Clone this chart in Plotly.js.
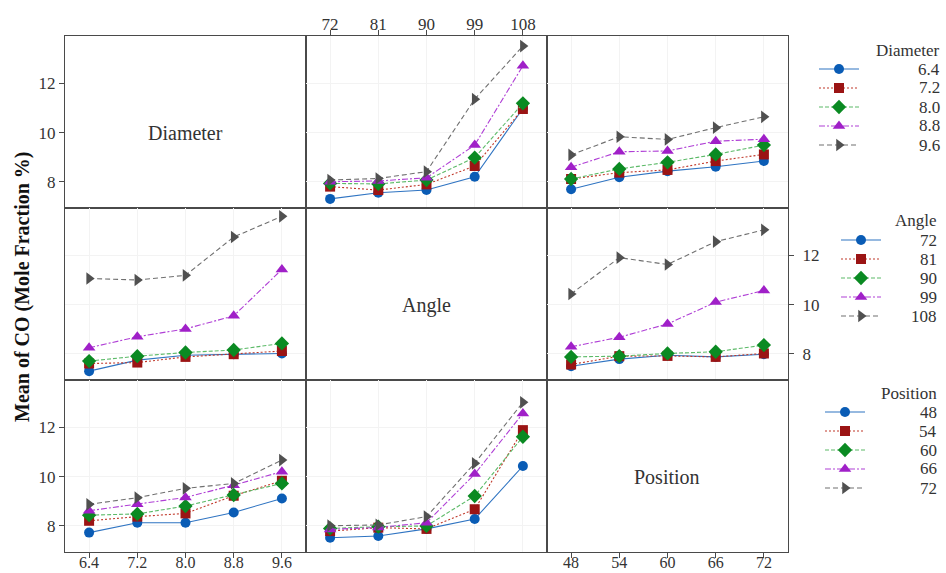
<!DOCTYPE html>
<html>
<head>
<meta charset="utf-8">
<script src="https://cdn.plot.ly/plotly-3.0.1.min.js"></script>
<style>html,body{margin:0;padding:0;background:#fff;}#chart{width:946px;height:573px;}</style>
</head>
<body>
<div id="chart"></div>
<script>
// ---- factor levels (tick labels / legend labels) ----
const diameterLevels = ['6.4', '7.2', '8.0', '8.8', '9.6'];
const angleLevels = ['72', '81', '90', '99', '108'];
const positionLevels = ['48', '54', '60', '66', '72'];
const factorNames = ['Diameter', 'Angle', 'Position'];
const yTitle = 'Mean of CO (Mole Fraction %)';
const yTicks = [8, 10, 12];

// ---- means: rows = trace factor level, columns = x factor level ----
const diameterVsAngle = [
  [7.30, 7.55, 7.66, 8.20, 10.98],
  [7.80, 7.66, 7.89, 8.64, 10.96],
  [7.93, 7.91, 8.07, 8.98, 11.19],
  [8.00, 8.03, 8.16, 9.49, 12.72],
  [8.07, 8.13, 8.41, 11.36, 13.52]
];
const diameterVsPosition = [
  [7.69, 8.18, 8.43, 8.61, 8.84],
  [8.11, 8.37, 8.48, 8.84, 9.11],
  [8.11, 8.52, 8.79, 9.11, 9.49],
  [8.59, 9.22, 9.25, 9.65, 9.73],
  [9.09, 9.83, 9.72, 10.20, 10.64]
];
const angleVsDiameter = [
  [7.29, 7.74, 7.94, 7.98, 8.01],
  [7.60, 7.64, 7.87, 7.98, 8.11],
  [7.70, 7.90, 8.05, 8.15, 8.42],
  [8.24, 8.69, 9.01, 9.54, 11.43],
  [11.06, 11.00, 11.19, 12.75, 13.59]
];
const angleVsPosition = [
  [7.49, 7.78, 7.94, 7.87, 7.98],
  [7.56, 7.90, 7.91, 7.87, 8.01],
  [7.87, 7.90, 8.01, 8.08, 8.35],
  [8.28, 8.67, 9.21, 10.10, 10.57],
  [10.43, 11.91, 11.63, 12.56, 13.04]
];
const positionVsDiameter = [
  [7.72, 8.12, 8.12, 8.54, 9.11],
  [8.20, 8.37, 8.50, 9.22, 9.83],
  [8.43, 8.48, 8.80, 9.25, 9.72],
  [8.61, 8.87, 9.15, 9.65, 10.20],
  [8.87, 9.14, 9.52, 9.72, 10.67]
];
const positionVsAngle = [
  [7.51, 7.58, 7.87, 8.27, 10.43],
  [7.78, 7.92, 7.87, 8.67, 11.89],
  [7.89, 7.96, 7.99, 9.21, 11.62],
  [7.85, 7.93, 8.12, 10.10, 12.57],
  [8.00, 8.03, 8.37, 10.54, 13.02]
];

// ---- styles ----
const markerColors = ['#0a5cb5', '#9b1414', '#0a8a22', '#a020c8', '#505050'];
const lineColors = ['#2f74c2', '#c0392b', '#5cba68', '#b040d6', '#707070'];
const symbols = ['circle', 'square', 'diamond', 'triangle-up', 'triangle-right'];
const symbolSizes = [10, 10, 11, 11, 11];
const dashes = ['solid', '2px,2px', '4px,2px', '6px,2px,2px,2px', '5px,3px'];

const levelsByFactor = [diameterLevels, angleLevels, positionLevels];
const dataByPanel = {
  '0,1': diameterVsAngle, '0,2': diameterVsPosition,
  '1,0': angleVsDiameter, '1,2': angleVsPosition,
  '2,0': positionVsDiameter, '2,1': positionVsAngle
};
const legendIds = ['legend', 'legend2', 'legend3'];

// geometry helpers (plot area: l=65, t=36, w=723, h=516)
const M = {l: 65, r: 158, t: 36, b: 21};
const W = 946 - M.l - M.r, H = 573 - M.t - M.b;
const px = x => (x - M.l) / W;
const py = y => (573 - M.b - y) / H;

const traces = [];
const layout = {
  width: 946, height: 573,
  margin: M,
  paper_bgcolor: '#fff', plot_bgcolor: '#fff',
  font: {family: 'Liberation Serif', size: 17, color: '#333'},
  showlegend: true,
  annotations: []
};

const frameColor = '#4a4a4a';
for (let r = 0; r < 3; r++) {
  for (let c = 0; c < 3; c++) {
    const k = r * 3 + c + 1;
    const xa = 'xaxis' + (k === 1 ? '' : k);
    const ya = 'yaxis' + (k === 1 ? '' : k);
    const xid = 'x' + (k === 1 ? '' : k);
    const yid = 'y' + (k === 1 ? '' : k);
    const diag = r === c;
    const xLabels = (r === 2 && c !== 1) || (r === 0 && c === 1);
    const yLabels = (c === 0 && r !== 1) || (c === 2 && r === 1);
    layout[xa] = {
      domain: [c / 3, (c + 1) / 3], anchor: yid,
      type: 'category', categoryorder: 'array', categoryarray: levelsByFactor[c],
      tickvals: levelsByFactor[c],
      range: [-0.5, 4.5],
      showline: true, mirror: true, linecolor: frameColor, linewidth: 1,
      showgrid: !diag, gridcolor: '#f3f3f3', gridwidth: 1, zeroline: false,
      ticks: xLabels ? 'outside' : '', ticklen: 5, tickcolor: frameColor,
      showticklabels: xLabels, side: (r === 0 ? 'top' : 'bottom'),
      ticklabelstandoff: (r === 0 ? -7 : -9),
      tickfont: {family: 'Liberation Serif', size: (r === 0 ? 17 : 16), color: '#333'},
      fixedrange: true
    };
    layout[ya] = {
      domain: [(2 - r) / 3, (3 - r) / 3], anchor: xid,
      range: [6.93, 13.93],
      tickvals: yTicks,
      showline: true, mirror: true, linecolor: frameColor, linewidth: 1,
      showgrid: !diag, gridcolor: '#f3f3f3', gridwidth: 1, zeroline: false,
      ticks: yLabels ? 'outside' : '', ticklen: 5, tickcolor: frameColor,
      showticklabels: yLabels, side: (c === 2 ? 'right' : 'left'),
      ticklabelstandoff: (c === 2 ? 5 : 0),
      tickfont: {family: 'Liberation Serif', size: 17, color: '#333'},
      fixedrange: true
    };
    if (diag) {
      // empty trace so the diagonal subplot (and its frame) is created
      traces.push({type: 'scatter', mode: 'markers', x: [], y: [], xaxis: xid, yaxis: yid,
        showlegend: false, hoverinfo: 'skip'});
      continue;
    }
    const data = dataByPanel[r + ',' + c];
    const firstInRow = (r === 0 && c === 1) || (r > 0 && c === 0);
    data.forEach((vals, i) => {
      traces.push({
        type: 'scatter', mode: 'lines+markers',
        x: levelsByFactor[c], y: vals,
        xaxis: xid, yaxis: yid,
        name: ' ',
        legend: legendIds[r],
        showlegend: firstInRow,
        line: {color: lineColors[i], width: 1.1, dash: dashes[i]},
        marker: {symbol: symbols[i], size: symbolSizes[i], color: markerColors[i], line: {width: 0}},
        hoverinfo: 'x+y'
      });
    });
  }
}

// diagonal labels
const diagPos = [[185, 133], [426, 305], [667, 477]];
factorNames.forEach((n, i) => {
  layout.annotations.push({
    xref: 'paper', yref: 'paper', x: px(diagPos[i][0]), y: py(diagPos[i][1]),
    text: n, showarrow: false, xanchor: 'center', yanchor: 'middle',
    font: {family: 'Liberation Serif', size: 20, color: '#333'}
  });
});

// y title
layout.annotations.push({
  xref: 'paper', yref: 'paper', x: px(22), y: py(287),
  text: '<b>' + yTitle + '</b>', textangle: -90, showarrow: false,
  xanchor: 'center', yanchor: 'middle',
  font: {family: 'Liberation Serif', size: 20, color: '#111'}
});

// legends (symbols by plotly legends, labels by annotations)
const legendTop = [54.5, 225.5, 397.5];
const legendLeft = [814, 836, 820];
const legendRight = [942, 939, 939];
const itemH = 19;
legendIds.forEach((id, j) => {
  layout[id] = {
    x: px(legendLeft[j]), y: py(legendTop[j]), xanchor: 'left', yanchor: 'top',
    itemwidth: 40, font: {size: 10}, bgcolor: 'rgba(0,0,0,0)', borderwidth: 0,
    tracegroupgap: 0, traceorder: 'normal', itemclick: false, itemdoubleclick: false
  };
  layout.annotations.push({
    xref: 'paper', yref: 'paper', x: px(legendRight[j]), y: py(legendTop[j] + 14.5 - 19),
    text: factorNames[j], showarrow: false, xanchor: 'right', yanchor: 'middle',
    font: {family: 'Liberation Serif', size: 17, color: '#333'}
  });
  levelsByFactor[j].forEach((lv, i) => {
    layout.annotations.push({
      xref: 'paper', yref: 'paper', x: px(legendRight[j]), y: py(legendTop[j] + 14.5 + i * itemH),
      text: lv, showarrow: false, xanchor: 'right', yanchor: 'middle',
      font: {family: 'Liberation Serif', size: 17, color: '#333'}
    });
  });
});

Plotly.newPlot('chart', traces, layout, {staticPlot: true, displayModeBar: false});
</script>
</body>
</html>
